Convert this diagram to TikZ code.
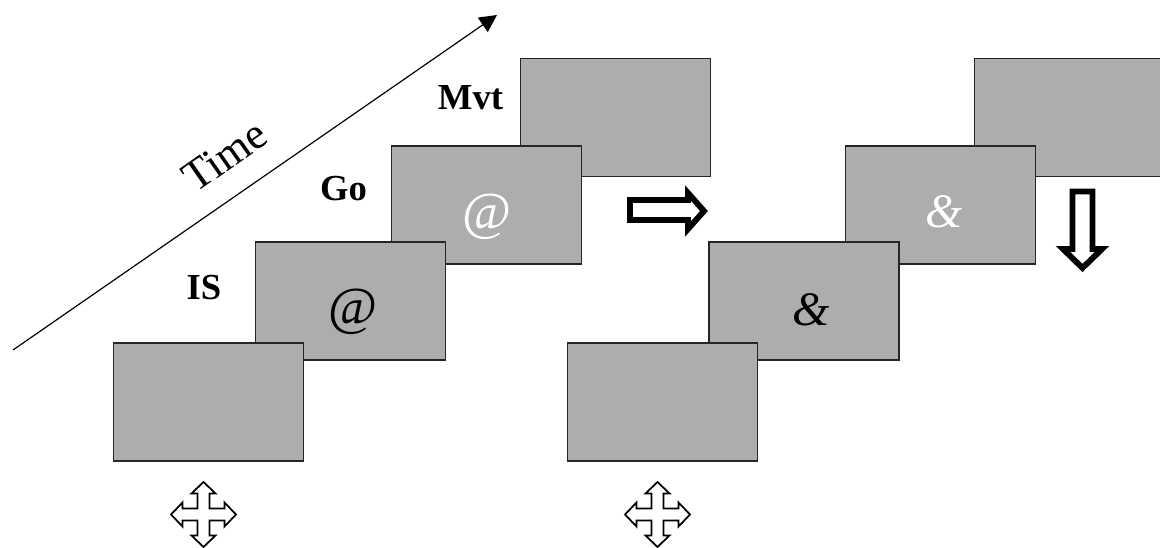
\documentclass[tikz,border=0pt]{standalone}
\usepackage{fontspec}
\setmainfont{Liberation Serif}
\usetikzlibrary{arrows.meta}
\definecolor{panelgray}{RGB}{173,173,173}
\tikzset{
  % grey display panel
  panel/.style={draw=black!85, line width=1.3pt, fill=panelgray, inner sep=0pt,
    minimum width=142.5pt, minimum height=88.5pt},
  % bold phase label
  phase/.style={font=\fontsize{27.5}{30}\selectfont\bfseries, inner sep=0pt},
  % symbols inside the panels
  cue/.style={font=\fontsize{40}{42}\selectfont, inner sep=0pt},
  % hollow block arrows
  hollow/.style={draw=black, line width=4.4pt, fill=white, miter limit=10},
  % four way cursor
  cross/.style={draw=black, line width=1.3pt, fill=white},
  pics/moveicon/.style={code={
    \draw[cross] (0,-32.5) -- (12,-21) -- (6,-21) -- (6,-6) -- (21,-6) -- (21,-12)
      -- (32.5,0) -- (21,12) -- (21,6) -- (6,6) -- (6,21) -- (12,21)
      -- (0,32.5) -- (-12,21) -- (-6,21) -- (-6,6) -- (-21,6) -- (-21,12)
      -- (-32.5,0) -- (-21,-12) -- (-21,-6) -- (-6,-6) -- (-6,-21) -- (-12,-21) -- cycle;
  }},
}
\begin{document}
\begin{tikzpicture}[x=0.75pt,y=-0.75pt]
  \useasboundingbox (0,0) rectangle (1160,548);

  % Time axis
  \coordinate (timeStart) at (13,350);
  \coordinate (timeEnd) at (497,15);
  \draw[line width=0.9pt, -{Triangle[length=13pt,width=13pt]}] (timeStart) -- (timeEnd);
  \node[font=\fontsize{33}{35}\selectfont, rotate=35, inner sep=0pt] (timeLabel) at (225,156) {Time};

  % Left sequence, back to front
  \node[panel] (mvtL) at (615.5,117.5) {};
  \node[panel] (goL) at (486.5,205) {};
  \node[panel] (isL) at (350.5,301) {};
  \node[panel] (fixL) at (208.5,402) {};

  % Right sequence, back to front
  \node[panel] (mvtR) at (1069.5,117.5) {};
  \node[panel] (goR) at (940.5,205) {};
  \node[panel] (isR) at (804,301) {};
  \node[panel] (fixR) at (662.5,402) {};

  % Phase labels
  \node[phase] (mvtLabel) at (470.5,98) {Mvt};
  \node[phase] (goLabel) at (343.5,189) {Go};
  \node[phase] (isLabel) at (204,288) {IS};

  % Cues
  \node[cue, text=white] (atGo) at (487,217) {@};
  \node[cue] (atIs) at (353,312) {@};
  \node[cue, text=white, font=\fontsize{36}{38}\selectfont\itshape] (ampGo) at (944,212) {\&};
  \node[cue, font=\fontsize{36}{38}\selectfont\itshape] (ampIs) at (811,310) {\&};

  % Block arrows
  \draw[hollow] (630,200) -- (688,200) -- (688,193) -- (704,211) -- (688,229)
    -- (688,220) -- (630,220) -- cycle;
  \draw[hollow] (1072.5,191.5) -- (1092.5,191.5) -- (1092.5,249) -- (1102,249)
    -- (1082.5,268) -- (1063,249) -- (1072.5,249) -- cycle;

  % Cursors
  \pic at (203.5,514.5) {moveicon};
  \pic at (657.5,514.5) {moveicon};
\end{tikzpicture}
\end{document}
